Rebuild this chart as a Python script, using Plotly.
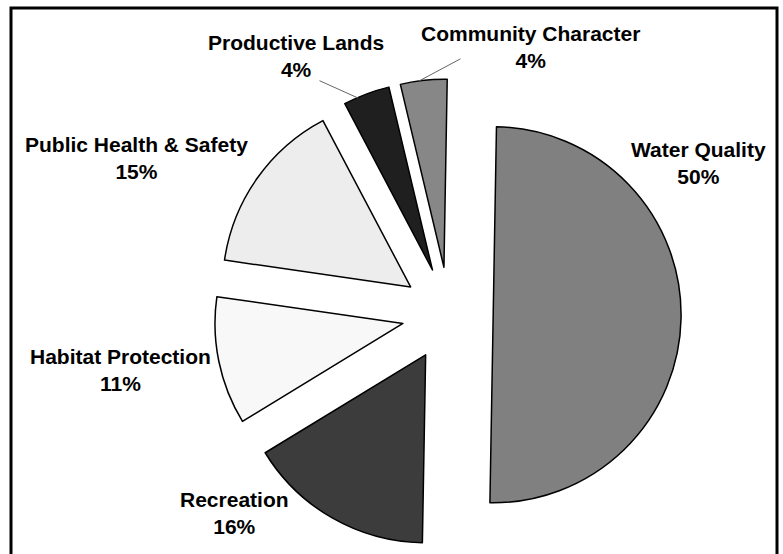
import plotly.graph_objects as go

categories = ["Water Quality", "Recreation", "Habitat Protection",
              "Public Health & Safety", "Productive Lands", "Community Character"]
values = [50, 16, 11, 15, 4, 4]
colors = ["#808080", "#3c3c3c", "#f8f8f8", "#ededed", "#1f1f1f", "#878787"]
pulls = [0.235, 0.25, 0.25, 0.25, 0.25, 0.25]

# label positions (paper coords) : x, y
label_pos = {
    "Water Quality": (0.8915, 0.7058),
    "Recreation": (0.2995, 0.0749),
    "Habitat Protection": (0.1545, 0.332),
    "Public Health & Safety": (0.1743, 0.7139),
    "Productive Lands": (0.3774, 0.8989),
    "Community Character": (0.6769, 0.9152),
}
# leader lines for the small slices: head (paper coords), tail offset (pixels)
leader = {
    "Productive Lands": ((358 / 783, 1 - 98 / 554), (-40, -18)),
    "Community Character": ((419 / 783, 1 - 81 / 554), (43, -23)),
}

fig = go.Figure(go.Pie(
    labels=categories,
    values=values,
    sort=False,
    direction="clockwise",
    rotation=1,
    pull=pulls,
    marker=dict(colors=colors, line=dict(color="#000000", width=1.5)),
    textinfo="none",
    hoverinfo="label+percent",
    domain=dict(x=[0.15, 0.9969], y=[0.009, 0.8574]),
    showlegend=False,
))

font = dict(family="Liberation Sans, Arial, sans-serif", size=21, color="#000000")
total = sum(values)
annotations = []
for cat, v in zip(categories, values):
    x, y = label_pos[cat]
    text = f"<b>{cat}</b><br><b>{round(100 * v / total)}%</b>"
    annotations.append(dict(x=x, y=y, xref="paper", yref="paper", text=text,
                            showarrow=False, font=font, align="center",
                            xanchor="center", yanchor="middle"))

for cat, ((hx, hy), (ax, ay)) in leader.items():
    annotations.append(dict(x=hx, y=hy, xref="paper", yref="paper",
                            ax=ax, ay=ay, axref="pixel", ayref="pixel", text="",
                            showarrow=True, arrowhead=0, arrowwidth=1,
                            arrowcolor="#666666", standoff=0, startstandoff=0))

fig.update_layout(
    width=783, height=554,
    margin=dict(l=0, r=0, t=0, b=0),
    paper_bgcolor="white", plot_bgcolor="white",
    annotations=annotations,
    shapes=[dict(type="rect", xref="paper", yref="paper",
                 x0=11 / 783, x1=777 / 783, y0=-0.02, y1=1 - 8 / 554,
                 line=dict(color="#000000", width=3), fillcolor="rgba(0,0,0,0)")],
)

fig.write_html("out.html",
               config={"displayModeBar": False},
               post_script="document.body.style.margin='0';document.body.style.overflow='hidden';")
